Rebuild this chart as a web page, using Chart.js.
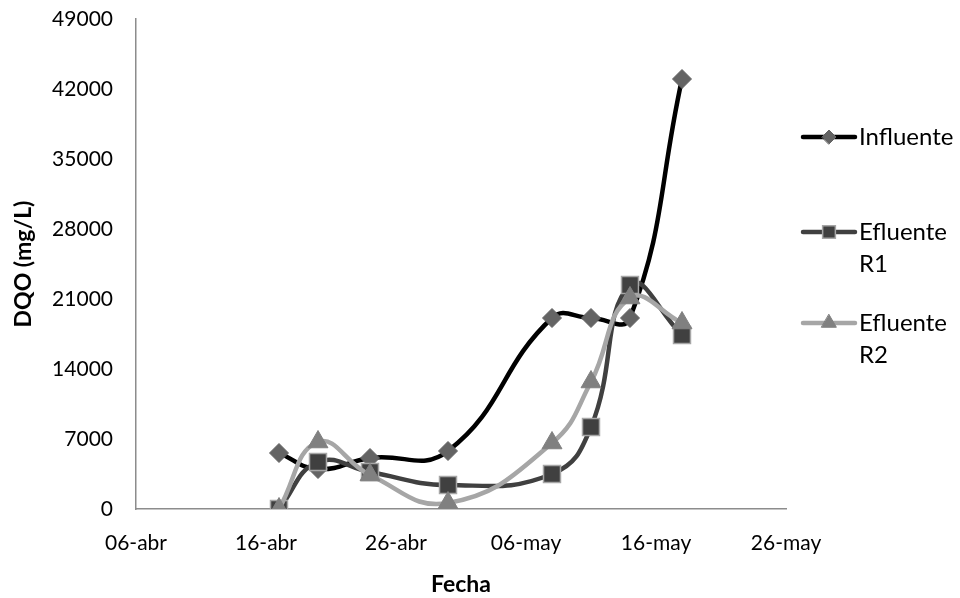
<!DOCTYPE html>
<html>
<head>
<meta charset="utf-8">
<title>DQO</title>
<script src="https://cdn.jsdelivr.net/npm/chart.js@4.4.0/dist/chart.umd.min.js"></script>
<style>
    html, body { margin: 0; padding: 0; background: #ffffff; }
</style>
</head>
<body>
<canvas id="dqo" width="960" height="598"></canvas>
<script>
// Donnees
const fechas = ['17-abr', '20-abr', '24-abr', '30-abr', '08-may', '11-may', '14-may', '18-may'];
const influente = [5600, 4000, 5100, 5800, 19100, 19100, 19100, 43000];
const efluenteR1 = [0, 4700, 3700, 2400, 3500, 8200, 22400, 17400];
const efluenteR2 = [0, 6700, 3400, 600, 6600, 12700, 21100, 18600];
const tickLabels = ['06-abr', '16-abr', '26-abr', '06-may', '16-may', '26-may'];
const yTicks = [0, 7000, 14000, 21000, 28000, 35000, 42000, 49000];

// jours depuis le 06-abr
const mesInicio = { abr: -6, may: 24 };
const dias = fechas.map((f) => {
    const [d, m] = f.split('-');
    return parseInt(d, 10) + mesInicio[m];
});
const toPoints = (serie) => serie.map((v, i) => ({ x: dias[i], y: v }));

Chart.defaults.font.family = 'Lato';
Chart.defaults.color = '#000000';

// Legende facon Excel : trait + marqueur + texte
const legendRows = [
    { lines: ['Influente'], y: 137, r: 7 },
    { lines: ['Efluente', 'R1'], y: 232, r: 9 },
    { lines: ['Efluente', 'R2'], y: 323, r: 8.5 }
];

const excelLegend = {
    id: 'excelLegend',
    afterDraw(chart) {
        const ctx = chart.ctx;
        chart.data.datasets.forEach((ds, i) => {
            const row = legendRows[i];
            ctx.save();
            ctx.strokeStyle = ds.borderColor;
            ctx.lineWidth = ds.borderWidth;
            ctx.lineCap = 'round';
            ctx.beginPath();
            ctx.moveTo(803, row.y);
            ctx.lineTo(855, row.y);
            ctx.stroke();
            ctx.fillStyle = ds.pointBackgroundColor;
            ctx.strokeStyle = ds.pointBorderColor;
            ctx.lineWidth = ds.pointBorderWidth;
            Chart.helpers.drawPoint(ctx, {
                pointStyle: ds.pointStyle,
                radius: row.r,
                borderWidth: ds.pointBorderWidth,
                rotation: 0
            }, 829, row.y);
            ctx.fillStyle = '#000000';
            ctx.font = '24px Lato';
            ctx.textBaseline = 'middle';
            ctx.textAlign = 'left';
            row.lines.forEach((t, k) => {
                ctx.fillText(t, 859, row.y + k * 32);
            });
            ctx.restore();
        });
    }
};

let chart = new Chart(document.getElementById('dqo'), {
    type: 'line',
    data: {
        datasets: [{
            label: 'Influente',
            data: toPoints(influente),
            borderColor: '#000000',
            borderWidth: 4.5,
            pointStyle: 'rectRot',
            pointRadius: 9.5,
            pointHoverRadius: 9.5,
            pointBackgroundColor: '#646464',
            pointBorderColor: '#646464',
            pointBorderWidth: 1,
            tension: 0.45,
            order: 3
        }, {
            label: 'Efluente R1',
            data: toPoints(efluenteR1),
            borderColor: '#404040',
            borderWidth: 4.5,
            pointStyle: 'rect',
            pointRadius: 12,
            pointHoverRadius: 12,
            pointBackgroundColor: '#404040',
            pointBorderColor: '#a6a6a6',
            pointBorderWidth: 1.5,
            tension: 0.45,
            order: 2
        }, {
            label: 'Efluente R2',
            data: toPoints(efluenteR2),
            borderColor: '#a6a6a6',
            borderWidth: 4.5,
            pointStyle: 'triangle',
            pointRadius: 11.5,
            pointHoverRadius: 11.5,
            pointBackgroundColor: '#808080',
            pointBorderColor: '#808080',
            pointBorderWidth: 1,
            tension: 0.45,
            order: 1
        }]
    },
    options: {
        responsive: false,
        animation: false,
        layout: { padding: { top: 19, right: 174, bottom: 0, left: 0 } },
        plugins: {
            legend: { display: false },
            tooltip: { enabled: false }
        },
        scales: {
            x: {
                type: 'linear',
                min: 0,
                max: 50,
                afterFit: (scale) => { scale.height = 89; },
                afterBuildTicks: (scale) => {
                    scale.ticks = tickLabels.map((t, i) => ({ value: i * 10 }));
                },
                grid: { display: false, drawTicks: false },
                border: { display: true, color: '#8c8c8c', width: 1.5 },
                ticks: {
                    padding: 22,
                    maxRotation: 0,
                    font: { size: 21 },
                    callback: (v, i) => tickLabels[i]
                },
                title: {
                    display: true,
                    text: 'Fecha',
                    font: { size: 23, weight: 'bold' },
                    padding: { top: 0, bottom: 0 }
                }
            },
            y: {
                min: 0,
                max: 49000,
                afterFit: (scale) => {
                    scale.width = 136;
                    scale.paddingTop = 0;
                    scale.paddingBottom = 0;
                },
                afterBuildTicks: (scale) => {
                    scale.ticks = yTicks.map((v) => ({ value: v }));
                },
                grid: { display: false, drawTicks: false },
                border: { display: true, color: '#8c8c8c', width: 1.5 },
                ticks: {
                    padding: 23,
                    font: { size: 21 },
                    callback: (v) => String(v)
                },
                title: {
                    display: true,
                    text: 'DQO (mg/L)',
                    font: { size: 23, weight: 'bold' },
                    padding: { top: 10, bottom: 0 }
                }
            }
        }
    },
    plugins: [excelLegend]
});
</script>
</body>
</html>
